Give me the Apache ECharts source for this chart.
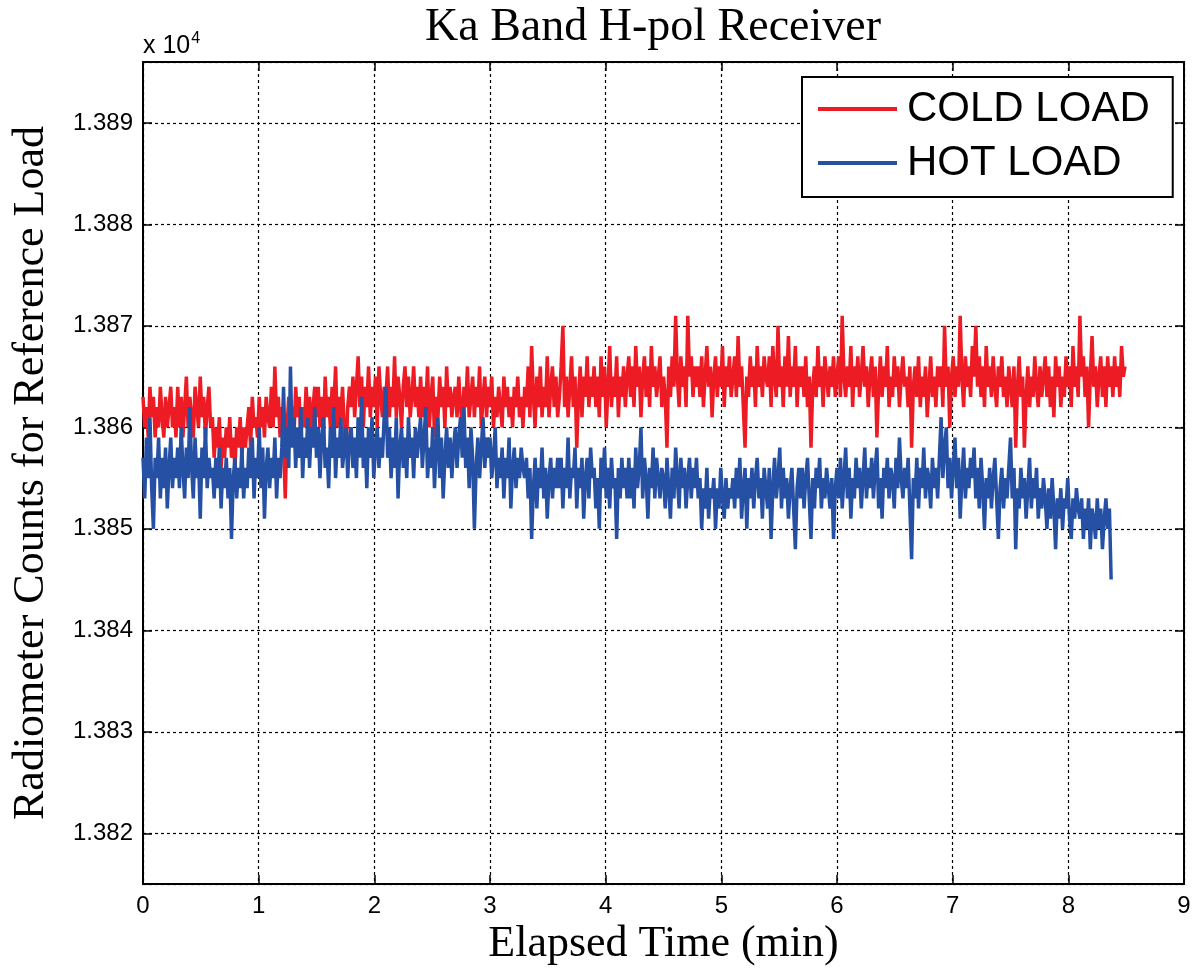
<!DOCTYPE html>
<html>
<head>
<meta charset="utf-8">
<script src="https://cdn.jsdelivr.net/npm/echarts@6/dist/echarts.min.js"></script>
<style>
html,body{margin:0;padding:0;background:#fff;}
#chart{width:1195px;height:977px;}
</style>
</head>
<body>
<div id="chart"></div>
<script>
// Sample interval (minutes) of the recorded counts
const sampleStep = 0.015;

// COLD LOAD counts (red), 20 samples per row
const coldLoad = [
13863,13860,13862,13859,13864,13861,13863,13859,13862,13860,13864,13861,13859,13863,13860,13862,13864,13860,13862,13859,
13864,13860,13863,13859,13862,13865,13860,13863,13861,13859,13864,13862,13860,13865,13861,13863,13859,13862,13864,13860,
13861,13857,13860,13858,13861,13856,13859,13857,13860,13858,13861,13857,13859,13856,13860,13858,13861,13857,13860,13858,
13860,13862,13858,13863,13860,13861,13859,13863,13860,13862,13859,13863,13861,13860,13864,13860,13866,13861,13863,13859,
13862,13858,13853,13860,13863,13860,13862,13859,13864,13861,13863,13859,13862,13860,13864,13861,13863,13859,13862,13864,
13861,13864,13860,13863,13859,13865,13861,13863,13860,13864,13862,13866,13860,13863,13861,13864,13860,13857,13862,13864,
13862,13865,13861,13864,13867,13862,13865,13860,13864,13862,13866,13861,13864,13862,13865,13860,13866,13863,13861,13864,
13863,13866,13861,13864,13862,13867,13861,13865,13863,13860,13864,13866,13862,13865,13861,13863,13866,13862,13864,13861,
13865,13861,13864,13862,13866,13860,13863,13865,13859,13863,13861,13865,13862,13864,13860,13866,13862,13864,13861,13863,
13864,13861,13865,13862,13860,13864,13862,13866,13861,13863,13865,13861,13864,13862,13866,13860,13863,13865,13861,13864,
13862,13865,13860,13863,13861,13864,13862,13860,13865,13862,13864,13861,13863,13860,13864,13862,13865,13861,13863,13860,
13864,13862,13866,13861,13868,13863,13860,13865,13862,13866,13861,13864,13862,13867,13861,13864,13866,13862,13865,13861,
13863,13866,13870,13862,13865,13861,13864,13867,13862,13865,13858,13863,13866,13861,13865,13863,13867,13862,13865,13863,
13866,13862,13865,13861,13867,13863,13866,13860,13864,13868,13862,13865,13863,13867,13861,13865,13863,13866,13862,13865,
13867,13863,13866,13862,13868,13864,13866,13861,13865,13867,13863,13866,13862,13868,13864,13866,13863,13865,13867,13862,
13865,13863,13858,13866,13863,13867,13864,13871,13865,13862,13867,13864,13866,13862,13871,13865,13867,13863,13866,13864,
13866,13863,13867,13862,13865,13868,13864,13866,13861,13865,13867,13863,13866,13864,13868,13862,13866,13864,13867,13863,
13865,13867,13863,13869,13864,13866,13862,13858,13865,13863,13867,13864,13866,13862,13868,13864,13866,13863,13867,13865,
13864,13867,13862,13868,13865,13863,13870,13864,13866,13862,13867,13864,13869,13863,13866,13864,13868,13862,13866,13864,
13866,13863,13867,13862,13865,13858,13864,13866,13863,13868,13864,13866,13862,13867,13865,13863,13866,13864,13867,13863,
13865,13867,13863,13871,13865,13863,13866,13864,13868,13862,13866,13864,13867,13863,13865,13868,13864,13866,13862,13865,
13867,13863,13866,13859,13864,13867,13863,13866,13864,13868,13862,13865,13863,13867,13864,13866,13862,13865,13867,13864,
13865,13862,13866,13858,13864,13866,13863,13867,13862,13865,13863,13866,13861,13864,13867,13863,13865,13862,13866,13864,
13866,13862,13870,13864,13866,13860,13865,13867,13863,13866,13864,13871,13865,13862,13867,13864,13866,13863,13868,13865,
13870,13864,13867,13863,13866,13862,13868,13864,13866,13863,13867,13864,13862,13866,13864,13867,13863,13865,13862,13866,
13864,13862,13866,13858,13864,13867,13863,13865,13858,13863,13866,13862,13865,13863,13867,13864,13862,13866,13863,13865,
13867,13863,13866,13862,13865,13861,13867,13864,13866,13862,13865,13863,13867,13864,13866,13862,13868,13864,13866,13863,
13871,13865,13867,13863,13866,13860,13865,13869,13864,13866,13862,13865,13867,13863,13866,13862,13867,13864,13866,13863,
13867,13864,13866,13863,13868,13865,13866
];

// HOT LOAD counts (blue), 20 samples per row
const hotLoad = [
13857,13853,13859,13855,13861,13854,13850,13857,13855,13859,13853,13857,13854,13858,13852,13856,13859,13854,13857,13855,
13858,13854,13860,13856,13853,13858,13855,13862,13856,13853,13859,13855,13857,13851,13858,13855,13860,13854,13857,13855,
13856,13853,13857,13854,13858,13852,13856,13854,13857,13853,13856,13849,13855,13857,13853,13856,13854,13858,13853,13856,
13854,13858,13855,13859,13853,13857,13855,13860,13854,13858,13851,13856,13858,13854,13857,13855,13859,13853,13857,13855,
13858,13864,13857,13860,13856,13866,13858,13861,13856,13860,13857,13862,13855,13859,13857,13861,13856,13860,13858,13862,
13857,13860,13855,13859,13861,13856,13858,13854,13860,13857,13862,13855,13859,13857,13861,13856,13858,13860,13855,13859,
13860,13856,13859,13855,13861,13857,13863,13856,13859,13854,13860,13857,13861,13855,13858,13860,13856,13859,13857,13861,
13864,13857,13860,13855,13859,13856,13861,13853,13858,13860,13856,13859,13855,13861,13857,13859,13855,13860,13857,13859,
13861,13856,13859,13862,13855,13858,13856,13860,13854,13858,13861,13855,13859,13853,13857,13860,13856,13859,13855,13858,
13860,13856,13859,13861,13857,13862,13856,13859,13854,13860,13857,13850,13856,13859,13855,13858,13861,13856,13859,13857,
13859,13855,13857,13860,13854,13857,13855,13858,13853,13857,13855,13859,13852,13856,13858,13854,13857,13855,13858,13856,
13855,13857,13853,13856,13849,13854,13857,13852,13856,13854,13858,13853,13856,13851,13855,13857,13853,13856,13854,13857,
13854,13857,13852,13856,13854,13859,13853,13856,13855,13858,13852,13856,13854,13857,13851,13855,13857,13853,13858,13855,
13856,13852,13855,13850,13857,13854,13858,13853,13856,13852,13857,13854,13855,13849,13856,13853,13857,13854,13856,13853,
13857,13853,13856,13852,13858,13854,13856,13860,13853,13857,13855,13851,13856,13854,13858,13853,13857,13855,13853,13856,
13855,13852,13857,13854,13851,13856,13853,13858,13855,13852,13857,13854,13856,13852,13855,13857,13853,13856,13854,13857,
13853,13855,13850,13854,13852,13856,13851,13854,13853,13855,13850,13854,13852,13856,13853,13851,13855,13852,13854,13853,
13855,13852,13856,13853,13857,13851,13854,13856,13850,13855,13853,13856,13852,13855,13857,13853,13855,13851,13856,13854,
13852,13856,13849,13854,13857,13853,13855,13858,13852,13856,13853,13855,13851,13854,13856,13852,13848,13854,13856,13853,
13856,13852,13855,13857,13853,13849,13855,13852,13856,13854,13857,13852,13855,13853,13856,13854,13852,13855,13849,13854,
13856,13853,13857,13852,13855,13858,13853,13856,13851,13855,13853,13857,13854,13856,13852,13855,13858,13853,13856,13854,
13857,13853,13856,13858,13852,13855,13851,13856,13854,13857,13853,13856,13855,13852,13857,13854,13859,13855,13853,13856,
13854,13857,13852,13847,13855,13853,13857,13852,13856,13854,13858,13853,13856,13855,13852,13857,13854,13856,13853,13857,
13861,13855,13858,13860,13854,13857,13853,13856,13859,13854,13857,13851,13855,13858,13853,13856,13854,13857,13855,13858,
13853,13856,13852,13857,13854,13850,13855,13853,13856,13852,13855,13857,13853,13849,13854,13856,13852,13855,13853,13856,
13859,13853,13856,13848,13854,13852,13856,13853,13855,13851,13854,13857,13852,13855,13853,13856,13851,13854,13852,13855,
13853,13850,13854,13851,13855,13852,13848,13853,13851,13854,13850,13853,13852,13855,13851,13849,13853,13851,13854,13852,
13851,13853,13849,13852,13850,13853,13848,13852,13851,13849,13853,13850,13852,13848,13851,13853,13850,13852,13845
];

const seriesNames = ['COLD LOAD', 'HOT LOAD'];
const xTicks = [0,1,2,3,4,5,6,7,8,9];

function withTime(values) {
  return values.map((v, i) => [+(i * sampleStep).toFixed(4), v]);
}

const sans = 'Liberation Sans, Arial, sans-serif';
const serif = 'Liberation Serif, Times New Roman, serif';

const chart = echarts.init(document.getElementById('chart'), null, {renderer: 'canvas'});

const gridLine = {show: true, lineStyle: {color: '#000', width: 1.2, type: [3, 3]}};
const frameLine = {show: true, onZero: false, lineStyle: {color: '#000', width: 2}};
const inTick = {show: true, inside: true, length: 9, lineStyle: {color: '#000', width: 1.5}};

chart.setOption({
  animation: false,
  backgroundColor: '#fff',
  title: {
    text: 'Ka Band H-pol Receiver',
    left: 420, top: 0,
    textStyle: {fontFamily: serif, fontSize: 46, fontWeight: 'normal', color: '#000'}
  },
  legend: {
    data: seriesNames.map(n => ({name: n, icon: 'rect'})),
    orient: 'vertical',
    left: 802, top: 77,
    itemWidth: 79, itemHeight: 4,
    itemGap: 10,
    padding: [10, 23, 12, 16],
    borderColor: '#000', borderWidth: 2,
    backgroundColor: '#fff',
    textStyle: {fontFamily: sans, fontSize: 42, color: '#000', lineHeight: 44, padding: [0, 0, 0, 5]}
  },
  grid: {left: 143, right: 11, top: 62, bottom: 93, containLabel: false},
  xAxis: [{
    type: 'value', min: 0, max: 9, interval: 1,
    name: 'Elapsed Time (min)', nameLocation: 'middle', nameGap: 36,
    nameTextStyle: {fontFamily: serif, fontSize: 44, color: '#000'},
    axisLine: frameLine, axisTick: inTick, splitLine: gridLine,
    axisLabel: {fontFamily: sans, fontSize: 24, color: '#000', margin: 10,
      formatter: v => xTicks.includes(v) ? String(v) : ''}
  }, {
    type: 'value', min: 0, max: 9, interval: 1, position: 'top',
    axisLine: frameLine, axisTick: inTick, splitLine: {show: false}, axisLabel: {show: false}
  }],
  yAxis: [{
    type: 'value', min: 13815, max: 13896, splitNumber: 8,
    name: 'Radiometer Counts for Reference Load', nameLocation: 'middle', nameGap: 90,
    nameTextStyle: {fontFamily: serif, fontSize: 44, color: '#000'},
    axisLine: frameLine, axisTick: inTick, splitLine: gridLine,
    axisLabel: {fontFamily: sans, fontSize: 24, color: '#000', margin: 10,
      showMinLabel: false, showMaxLabel: false,
      formatter: v => (v % 10 === 0) ? (v / 10000).toFixed(3) : ''}
  }, {
    type: 'value', min: 13815, max: 13896, splitNumber: 8, position: 'right',
    axisLine: frameLine, axisTick: inTick, splitLine: {show: false}, axisLabel: {show: false}
  }],
  graphic: [{
    type: 'text', left: 143, top: 31,
    style: {
      text: 'x 10{s|4}',
      font: '25px ' + sans, fill: '#000',
      rich: {s: {fontSize: 16, fontFamily: sans, verticalAlign: 'top', padding: [0, 0, 14, 1]}}
    }
  }],
  series: [{
    name: seriesNames[0], type: 'line', data: withTime(coldLoad),
    showSymbol: false, color: '#ED1C24',
    lineStyle: {width: 3.5, color: '#ED1C24'}, z: 2
  }, {
    name: seriesNames[1], type: 'line', data: withTime(hotLoad),
    showSymbol: false, color: '#2650A3',
    lineStyle: {width: 3.5, color: '#2650A3'}, z: 3
  }]
});
</script>
</body>
</html>
